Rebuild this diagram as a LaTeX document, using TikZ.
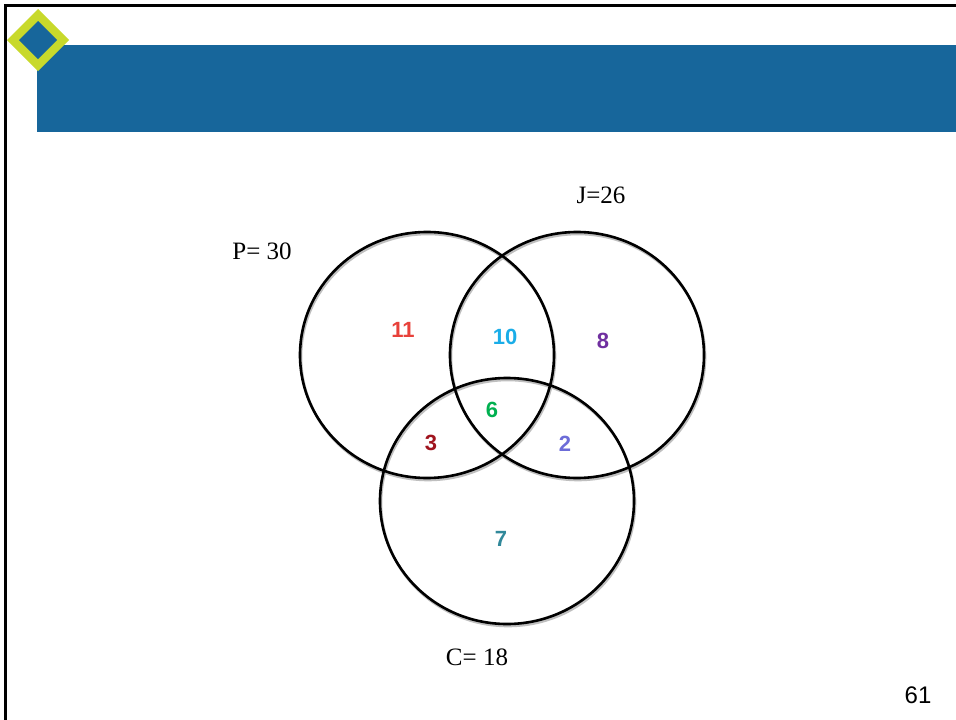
\documentclass[tikz,border=0pt]{standalone}
\usepackage{fontspec}
\setmainfont{Liberation Serif}
\newfontfamily\arialf{Liberation Sans}
\definecolor{bandblue}{RGB}{23,102,155}
\definecolor{lime}{RGB}{200,217,43}
\definecolor{cRed}{RGB}{232,65,58}
\definecolor{cCyan}{RGB}{26,173,232}
\definecolor{cPurple}{RGB}{112,48,160}
\definecolor{cGreen}{RGB}{0,176,80}
\definecolor{cDark}{RGB}{160,20,30}
\definecolor{cLav}{RGB}{108,108,216}
\definecolor{cTeal}{RGB}{49,136,154}
\begin{document}
\begin{tikzpicture}[x=1pt,y=-1pt,
  setcircle/.style={draw=black,line width=2.6pt},
  setlabel/.style={font=\fontsize{25}{27}\selectfont,inner sep=0pt},
  num/.style={font=\arialf\bfseries\fontsize{22}{24}\selectfont,inner sep=0pt}]
\useasboundingbox (0,0) rectangle (956,720);
\fill[white] (0,0) rectangle (956,720);
% frame
\draw[line width=3pt] (5.5,720) -- (5.5,5.5) -- (956,5.5);
% band
\fill[bandblue] (37,45) rectangle (956,132);
% diamond
\fill[lime] (38,9) -- (69,40) -- (38,71) -- (7,40) -- cycle;
\fill[bandblue] (38,21) -- (57,40) -- (38,59) -- (19,40) -- cycle;
% circle shadows
\draw[black!25,line width=2.6pt] (428,357) ellipse [x radius=127, y radius=123];
\draw[black!25,line width=2.6pt] (578,357) ellipse [x radius=127, y radius=123];
\draw[black!25,line width=2.6pt] (508,503) ellipse [x radius=127, y radius=123];
% circles
\draw[setcircle] (427,355) ellipse [x radius=127, y radius=123];
\draw[setcircle] (577,355) ellipse [x radius=127, y radius=123];
\draw[setcircle] (507,501) ellipse [x radius=127, y radius=123];
% labels
\node[setlabel] (lp) at (262,251) {P= 30};
\node[setlabel] (lj) at (601,195) {J=26};
\node[setlabel] (lc) at (477,657) {C= 18};
% region numbers
\node[num,text=cRed] (n11) at (403,330) {11};
\node[num,text=cCyan] (n10) at (505,337) {10};
\node[num,text=cPurple] (n8) at (603,341) {8};
\node[num,text=cGreen] (n6) at (492,410) {6};
\node[num,text=cDark] (n3) at (431,443) {3};
\node[num,text=cLav] (n2) at (565,444) {2};
\node[num,text=cTeal] (n7) at (501,539) {7};
\node[font=\arialf\fontsize{24}{26}\selectfont,inner sep=0pt] (pg) at (918,695) {61};
\end{tikzpicture}
\end{document}
